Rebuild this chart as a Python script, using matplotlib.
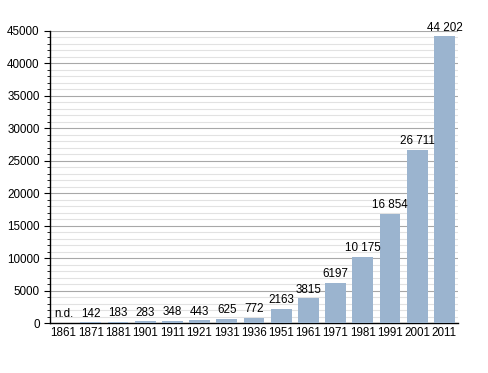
import numpy as np
import matplotlib
matplotlib.use("Agg")
import matplotlib.pyplot as plt
from matplotlib.ticker import MultipleLocator

plt.rcParams["font.family"] = ["Liberation Sans", "DejaVu Sans"]

years = ["1861", "1871", "1881", "1901", "1911", "1921", "1931", "1936",
         "1951", "1961", "1971", "1981", "1991", "2001", "2011"]
population = [0, 142, 183, 283, 348, 443, 625, 772,
              2163, 3815, 6197, 10175, 16854, 26711, 44202]
labels = ["n.d.", "142", "183", "283", "348", "443", "625", "772",
          "2163", "3815", "6197", "10 175", "16 854", "26 711", "44 202"]

BAR = "#9bb4cf"
FS = 8.4

fig = plt.figure(figsize=(4.88, 3.73), dpi=100)
ax = fig.add_axes([0.1025, 0.134, 0.836, 0.783])

x = np.arange(len(years))
ax.bar(x, population, width=0.77, color=BAR, zorder=3)
for xi, v, lab in zip(x, population, labels):
    ax.text(xi, v + 400, lab, ha="center", va="bottom", fontsize=FS, zorder=4)

ax.set_xlim(-0.5, len(years) - 0.5)
ax.set_ylim(0, 45000)
ax.set_xticks(x)
ax.set_xticklabels(years, fontsize=FS)
ax.yaxis.set_major_locator(MultipleLocator(5000))
ax.yaxis.set_minor_locator(MultipleLocator(1000))
ax.tick_params(axis="y", labelsize=FS, length=4, width=0.8, which="major")
ax.tick_params(axis="y", which="minor", length=2, width=0.6)
ax.tick_params(axis="x", length=0, pad=3)
ax.grid(axis="y", which="major", color="#a8a8a8", lw=0.8, zorder=1)
ax.grid(axis="y", which="minor", color="#e2e2e2", lw=0.8, zorder=1)
for s in ("top", "right"):
    ax.spines[s].set_visible(False)
ax.spines["left"].set_linewidth(1.0)
ax.spines["bottom"].set_linewidth(1.0)

fig.savefig("out.png", dpi=100)
